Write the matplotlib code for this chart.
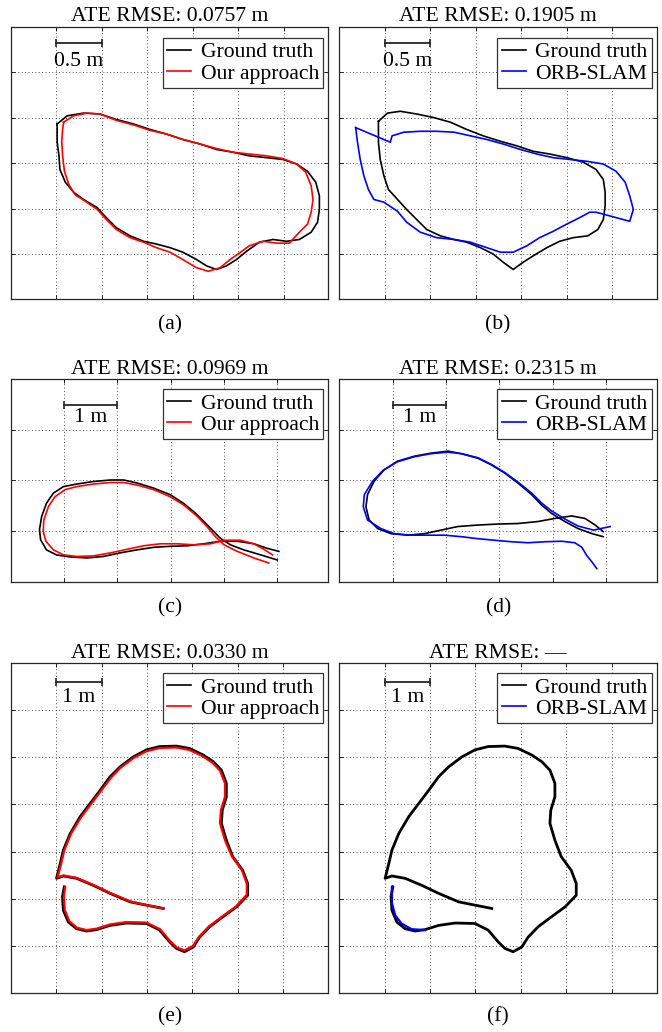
import numpy as np
import matplotlib.pyplot as plt

plt.rcParams['font.family'] = ['Liberation Serif', 'DejaVu Serif']

# ---- values (metres) ----
rmse_text = ['0.0757 m', '0.1905 m', '0.0969 m', '0.2315 m', '0.0330 m', '\u2014']
panel_tags = ['(a)', '(b)', '(c)', '(d)', '(e)', '(f)']
method_names = ['Our approach', 'ORB-SLAM', 'Our approach', 'ORB-SLAM', 'Our approach', 'ORB-SLAM']
scale_len = [0.5, 0.5, 1, 1, 1, 1]
scale_text = ['0.5 m', '0.5 m', '1 m', '1 m', '1 m', '1 m']

# sequence 1, ground truth aligned to our approach (a)
seq1_truth_ours = [
    (0.51, 1.93), (0.62, 2.02), (0.80, 2.05), (0.98, 2.04), (1.16, 1.98), (1.35, 1.93),
    (1.53, 1.87), (1.71, 1.82), (1.89, 1.76), (2.08, 1.71), (2.26, 1.65), (2.44, 1.62),
    (2.62, 1.58), (2.81, 1.56), (2.99, 1.54), (3.14, 1.49), (3.26, 1.41), (3.35, 1.29),
    (3.39, 1.14), (3.39, 0.99), (3.37, 0.85), (3.30, 0.74), (3.17, 0.66), (3.03, 0.64),
    (2.88, 0.66), (2.73, 0.63), (2.59, 0.53), (2.48, 0.44), (2.37, 0.37), (2.26, 0.33),
    (2.15, 0.37), (2.04, 0.44), (1.89, 0.52), (1.75, 0.57), (1.60, 0.61), (1.46, 0.64),
    (1.31, 0.70), (1.16, 0.79), (1.05, 0.90), (0.95, 1.01), (0.80, 1.10), (0.69, 1.18),
    (0.60, 1.29), (0.54, 1.43), (0.53, 1.58), (0.51, 1.73), (0.51, 1.85), (0.51, 1.93)]
seq1_ours = [
    (0.58, 1.95), (0.69, 2.02), (0.84, 2.05), (0.98, 2.04), (1.16, 1.97), (1.35, 1.92),
    (1.53, 1.86), (1.71, 1.82), (1.89, 1.76), (2.08, 1.71), (2.26, 1.66), (2.44, 1.62),
    (2.62, 1.60), (2.81, 1.58), (2.99, 1.55), (3.14, 1.49), (3.24, 1.40), (3.30, 1.25),
    (3.32, 1.10), (3.30, 0.96), (3.26, 0.83), (3.17, 0.74), (3.06, 0.62), (2.92, 0.62),
    (2.77, 0.64), (2.62, 0.59), (2.51, 0.51), (2.41, 0.44), (2.30, 0.35), (2.17, 0.31),
    (2.04, 0.35), (1.89, 0.44), (1.75, 0.52), (1.60, 0.57), (1.46, 0.63), (1.31, 0.68),
    (1.16, 0.77), (1.05, 0.88), (0.95, 0.99), (0.82, 1.08), (0.71, 1.15), (0.64, 1.26),
    (0.59, 1.41), (0.57, 1.58), (0.56, 1.74), (0.57, 1.87), (0.58, 1.95)]

# sequence 1, ground truth aligned to ORB-SLAM (b)
seq1_truth_orb = [
    (0.43, 1.96), (0.53, 2.05), (0.67, 2.07), (0.85, 2.04), (1.04, 2.00), (1.22, 1.95),
    (1.40, 1.87), (1.58, 1.80), (1.77, 1.74), (1.95, 1.69), (2.13, 1.63), (2.31, 1.60),
    (2.50, 1.56), (2.68, 1.51), (2.82, 1.43), (2.90, 1.32), (2.92, 1.18), (2.92, 1.03),
    (2.90, 0.88), (2.84, 0.77), (2.73, 0.70), (2.57, 0.68), (2.42, 0.64), (2.28, 0.57),
    (2.13, 0.48), (2.02, 0.41), (1.91, 0.33), (1.80, 0.41), (1.69, 0.50), (1.55, 0.57),
    (1.40, 0.63), (1.26, 0.66), (1.11, 0.70), (0.96, 0.77), (0.85, 0.88), (0.74, 0.99),
    (0.64, 1.10), (0.54, 1.21), (0.49, 1.36), (0.45, 1.54), (0.43, 1.73), (0.43, 1.87),
    (0.43, 1.96)]
seq1_orb = [
    (0.18, 1.89), (0.20, 1.73), (0.23, 1.54), (0.27, 1.36), (0.32, 1.21), (0.38, 1.10),
    (0.49, 1.07), (0.64, 0.97), (0.74, 0.85), (0.89, 0.74), (1.07, 0.68), (1.26, 0.66),
    (1.44, 0.63), (1.62, 0.57), (1.77, 0.52), (1.91, 0.52), (2.06, 0.59), (2.20, 0.68),
    (2.35, 0.75), (2.50, 0.83), (2.64, 0.90), (2.75, 0.96), (2.82, 0.96), (3.19, 0.86),
    (3.23, 0.99), (3.19, 1.14), (3.14, 1.29), (3.04, 1.41), (2.90, 1.49), (2.72, 1.52),
    (2.53, 1.54), (2.35, 1.56), (2.17, 1.60), (1.99, 1.65), (1.80, 1.71), (1.62, 1.76),
    (1.44, 1.80), (1.26, 1.84), (1.07, 1.85), (0.89, 1.85), (0.71, 1.84), (0.58, 1.80),
    (0.56, 1.73), (0.18, 1.89)]

# sequence 2 (c, d)
seq2_truth_ours = [
    (5.00, 0.43), (4.69, 0.53), (4.37, 0.63), (4.12, 0.73), (3.93, 0.86), (3.81, 0.99),
    (3.65, 1.16), (3.46, 1.36), (3.24, 1.55), (2.99, 1.72), (2.68, 1.85), (2.37, 1.95),
    (2.12, 2.01), (1.87, 2.01), (1.55, 1.98), (1.24, 1.93), (0.99, 1.88), (0.80, 1.75),
    (0.67, 1.55), (0.58, 1.29), (0.54, 1.03), (0.56, 0.83), (0.67, 0.63), (0.86, 0.53),
    (1.11, 0.49), (1.43, 0.47), (1.74, 0.50), (2.05, 0.57), (2.37, 0.63), (2.68, 0.68),
    (2.99, 0.70), (3.31, 0.71), (3.62, 0.75), (3.93, 0.80), (4.25, 0.80), (4.56, 0.75),
    (4.81, 0.66), (5.03, 0.60)]
seq2_ours = [
    (4.84, 0.37), (4.56, 0.47), (4.25, 0.60), (4.00, 0.73), (3.84, 0.89), (3.68, 1.09),
    (3.50, 1.29), (3.24, 1.52), (2.99, 1.68), (2.68, 1.82), (2.37, 1.91), (2.12, 1.96),
    (1.87, 1.96), (1.55, 1.93), (1.24, 1.88), (1.02, 1.82), (0.83, 1.68), (0.71, 1.49),
    (0.62, 1.22), (0.61, 0.99), (0.66, 0.80), (0.80, 0.63), (0.99, 0.53), (1.24, 0.50),
    (1.55, 0.51), (1.87, 0.57), (2.18, 0.64), (2.49, 0.71), (2.81, 0.75), (3.12, 0.75),
    (3.43, 0.73), (3.75, 0.75), (4.00, 0.82), (4.31, 0.82), (4.56, 0.75), (4.75, 0.64),
    (4.91, 0.53)]
seq2_truth_orb = [
    (4.95, 0.89), (4.74, 0.95), (4.48, 1.05), (4.23, 1.19), (3.98, 1.35), (3.79, 1.52),
    (3.61, 1.72), (3.35, 1.95), (3.10, 2.15), (2.85, 2.31), (2.60, 2.44), (2.29, 2.53),
    (2.04, 2.58), (1.72, 2.54), (1.41, 2.48), (1.09, 2.38), (0.84, 2.21), (0.65, 1.98),
    (0.53, 1.72), (0.50, 1.48), (0.56, 1.22), (0.72, 1.05), (0.97, 0.95), (1.28, 0.92),
    (1.60, 0.95), (1.91, 1.02), (2.22, 1.09), (2.60, 1.12), (2.98, 1.14), (3.35, 1.15),
    (3.73, 1.19), (4.04, 1.25), (4.36, 1.30), (4.61, 1.25), (4.80, 1.12), (4.95, 0.99)]
seq2_orb = [
    (5.08, 1.09), (4.77, 1.02), (4.48, 1.10), (4.23, 1.24), (3.98, 1.40), (3.79, 1.56),
    (3.61, 1.75), (3.35, 1.97), (3.10, 2.16), (2.85, 2.32), (2.60, 2.45), (2.29, 2.53),
    (2.04, 2.56), (1.72, 2.53), (1.41, 2.47), (1.09, 2.37), (0.82, 2.20), (0.62, 1.98),
    (0.47, 1.72), (0.45, 1.48), (0.53, 1.22), (0.78, 1.05), (1.03, 0.95), (1.35, 0.92),
    (1.66, 0.92), (1.97, 0.92), (2.29, 0.89), (2.60, 0.85), (2.91, 0.82), (3.23, 0.79),
    (3.54, 0.77), (3.86, 0.79), (4.17, 0.80), (4.42, 0.77), (4.55, 0.68), (4.64, 0.52),
    (4.74, 0.39), (4.83, 0.26)]

# sequence 3 (e, f)
seq3_truth = [
    (3.36, 1.79), (2.99, 1.86), (2.63, 1.93), (2.19, 2.11), (1.82, 2.28), (1.45, 2.43),
    (1.16, 2.48), (1.01, 2.43), (1.09, 2.74), (1.16, 3.03), (1.31, 3.38), (1.53, 3.74),
    (1.75, 4.02), (1.97, 4.30), (2.19, 4.59), (2.41, 4.80), (2.70, 5.01), (2.99, 5.16),
    (3.28, 5.23), (3.65, 5.24), (3.94, 5.19), (4.24, 5.05), (4.46, 4.91), (4.64, 4.73),
    (4.75, 4.45), (4.75, 4.16), (4.66, 3.88), (4.64, 3.60), (4.75, 3.24), (4.89, 2.89),
    (5.11, 2.60), (5.22, 2.32), (5.22, 2.07), (4.97, 1.82), (4.67, 1.61), (4.38, 1.40),
    (4.16, 1.18), (4.02, 0.97), (3.83, 0.87), (3.65, 0.94), (3.50, 1.08), (3.28, 1.33),
    (2.99, 1.47), (2.55, 1.48), (2.19, 1.43), (1.89, 1.34), (1.67, 1.31), (1.45, 1.36),
    (1.27, 1.50), (1.16, 1.75), (1.14, 2.04), (1.18, 2.25)]
seq3_ours = [
    (3.36, 1.79), (2.99, 1.86), (2.63, 1.94), (2.19, 2.12), (1.82, 2.29), (1.45, 2.44),
    (1.16, 2.49), (1.03, 2.45), (1.11, 2.74), (1.18, 3.03), (1.33, 3.38), (1.55, 3.73),
    (1.77, 4.01), (1.99, 4.29), (2.21, 4.57), (2.42, 4.78), (2.71, 4.99), (2.99, 5.13),
    (3.28, 5.20), (3.65, 5.21), (3.93, 5.16), (4.22, 5.03), (4.44, 4.89), (4.61, 4.72),
    (4.72, 4.45), (4.72, 4.16), (4.63, 3.88), (4.61, 3.60), (4.72, 3.24), (4.87, 2.90),
    (5.09, 2.61), (5.20, 2.32), (5.20, 2.08), (4.96, 1.83), (4.66, 1.62), (4.37, 1.41),
    (4.15, 1.19), (4.01, 0.99), (3.83, 0.90), (3.66, 0.96), (3.51, 1.10), (3.29, 1.35),
    (2.99, 1.49), (2.55, 1.50), (2.19, 1.45), (1.89, 1.36), (1.67, 1.33), (1.46, 1.38),
    (1.29, 1.52), (1.19, 1.76), (1.17, 2.04), (1.20, 2.25)]
seq3_orb = [(1.16, 2.25), (1.16, 1.90), (1.23, 1.65), (1.37, 1.47), (1.59, 1.35), (1.89, 1.33)]

truths = [seq1_truth_ours, seq1_truth_orb, seq2_truth_ours, seq2_truth_orb, seq3_truth, seq3_truth]
estimates = [seq1_ours, seq1_orb, seq2_ours, seq2_orb, seq3_ours, seq3_orb]
est_colors = ['#ff0000', '#0000ff', '#ff0000', '#0000ff', '#ff0000', '#0000ff']

# axis layout per row
row_xlim = [3.49, 5.96, 7.0]
row_ylim = [3.0, 4.0, 7.0]
row_grid = [0.5, 1.0, 1.0]
row_bottom = [0.7098, 0.4363, 0.0381]
row_height = [0.2643, 0.1962, 0.3192]
row_bar_y = [2.82, 3.50, 6.60]
row_bar_text_y = [2.62, 3.24, 6.28]
row_legend_y = [0.959, 0.951, 0.970]
row_caption_y = [0.685, 0.411, 0.0148]
row_lw = [(1.2, 1.2), (1.2, 1.2), (2.0, 1.6)]
col_left = [0.0162, 0.5125]
fs = 15.6

fig = plt.figure(figsize=(6.62, 10.32), dpi=100)

for i in range(6):
    r, c = divmod(i, 2)
    ax = fig.add_axes([col_left[c], row_bottom[r], 0.480, row_height[r]])
    gt = np.array(truths[i])
    est = np.array(estimates[i])
    ax.plot(gt[:, 0], gt[:, 1], color='black', lw=row_lw[r][0], label='Ground truth')
    ax.plot(est[:, 0], est[:, 1], color=est_colors[i], lw=row_lw[r][1], label=method_names[i])

    ax.set_xlim(0, row_xlim[r])
    ax.set_ylim(0, row_ylim[r])
    g = row_grid[r]
    ax.set_xticks(np.arange(g, row_xlim[r] - 0.05, g))
    ax.set_yticks(np.arange(g, row_ylim[r] - 0.05, g))
    ax.tick_params(direction='in', length=3, top=True, right=True,
                   labelleft=False, labelbottom=False, width=0.6)
    ax.grid(True, linestyle=(0, (1, 2.5)), color='0.3', linewidth=0.7)
    for s in ax.spines.values():
        s.set_linewidth(0.9)
        s.set_color('0.15')

    # scale bar
    x0 = g
    ax.plot([x0, x0 + scale_len[i]], [row_bar_y[r]] * 2, color='0.15', lw=1.3,
            marker='|', markersize=6, markeredgewidth=1.2)
    ax.text(x0 + scale_len[i] / 2, row_bar_text_y[r], scale_text[i], fontsize=fs,
            ha='center', va='center')

    ax.set_title('ATE RMSE: ' + rmse_text[i], fontsize=fs, pad=4)
    leg = ax.legend(loc='upper right', bbox_to_anchor=(0.984, row_legend_y[r]),
                    fontsize=fs, fancybox=False, framealpha=1, edgecolor='0.2',
                    borderpad=0.2, labelspacing=0.05, handlelength=1.1,
                    handletextpad=0.45, borderaxespad=0)
    leg.get_frame().set_linewidth(0.9)
    for h in leg.get_lines():
        h.set_linewidth(1.2)

    fig.text(col_left[c] + 0.24, row_caption_y[r], panel_tags[i], fontsize=fs,
             ha='center', va='center')

fig.savefig('out.png', dpi=100)
